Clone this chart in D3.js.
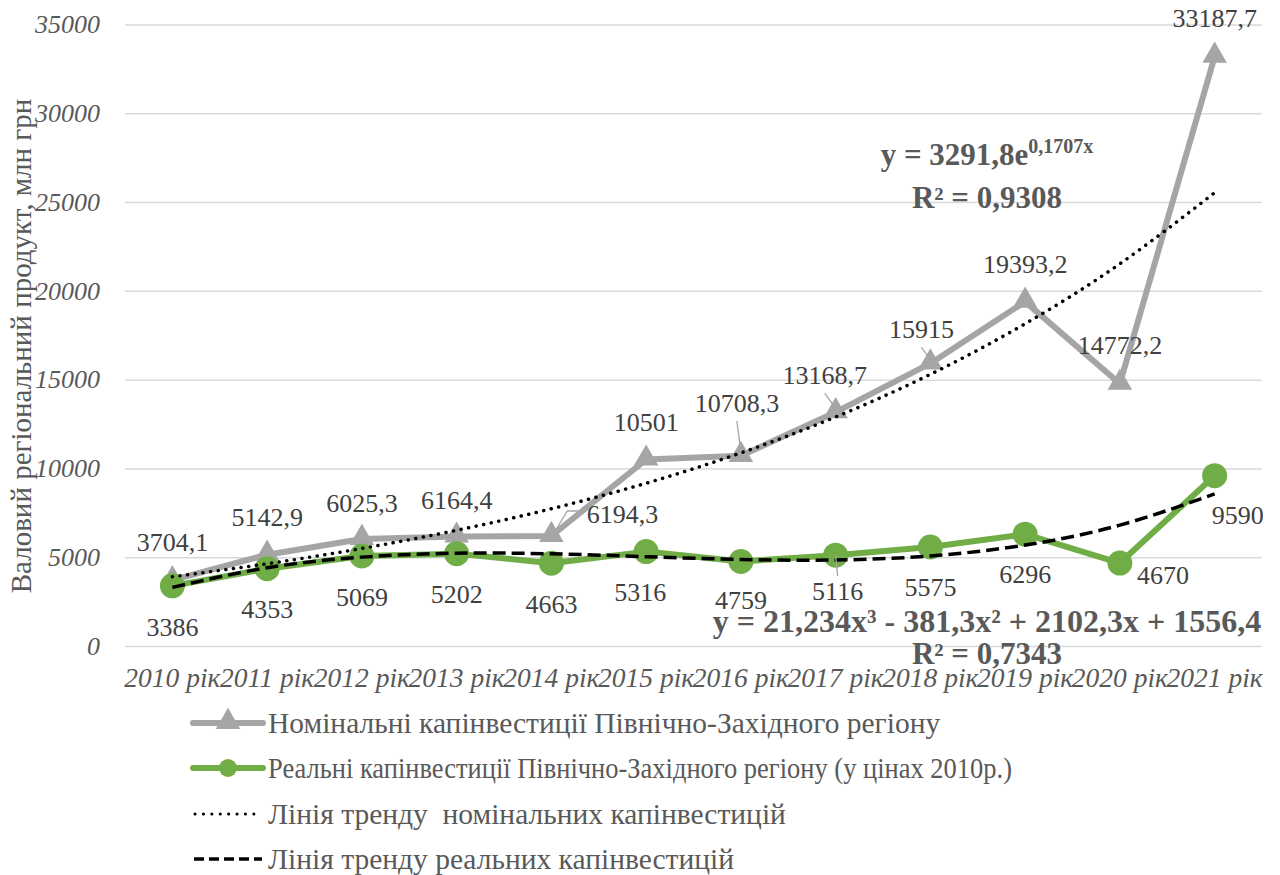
<!DOCTYPE html>
<html>
<head>
<meta charset="utf-8">
<script src="https://cdn.jsdelivr.net/npm/d3@7"></script>
<style>
  body { margin: 0; background: #fff; }
</style>
</head>
<body>
<div id="chart"></div>
<script>
// chart data
const years = ["2010 рік", "2011 рік", "2012 рік", "2013 рік", "2014 рік", "2015 рік",
               "2016 рік", "2017 рік", "2018 рік", "2019 рік", "2020 рік", "2021 рік"];
const nominal = [3704.1, 5142.9, 6025.3, 6164.4, 6194.3, 10501, 10708.3, 13168.7, 15915, 19393.2, 14772.2, 33187.7];
const real = [3386, 4353, 5069, 5202, 4663, 5316, 4759, 5116, 5575, 6296, 4670, 9590];
// trend lines (exponential / cubic fits shown in the labels)
const nominalTrend = [3904, 4631, 5493, 6516, 7729, 9167, 10874, 12898, 15299, 18147, 21525, 25531];
const realTrend = [3299, 4406, 5005, 5224, 5190, 5030, 4872, 4843, 5071, 5683, 6807, 8569];
const yTicks = [0, 5000, 10000, 15000, 20000, 25000, 30000, 35000];
const legendNames = [
  "Номінальні капінвестиції Північно-Західного регіону",
  "Реальні капінвестиції Північно-Західного регіону (у цінах 2010р.)",
  "Лінія тренду  номінальних капінвестицій",
  "Лінія тренду реальних капінвестицій"
];
const yTitle = "Валовий регіональний продукт, млн грн";

// label placement (offset of label centre from its point, px) and leader flags
const nominalLabelPos = [[0,-38],[0,-38],[0,-36],[0,-37],[71,-22],[0,-38],[-4,-53],[-11,-37],[-9,-34],[0,-38],[0,-39],[0,-39]];
const nominalLeader = [0,0,0,0,2,0,1,1,1,0,0,0];
const realLabelPos = [[0,41],[0,40],[0,41],[0,40],[0,41],[-6,40],[0,38],[2,36],[0,40],[0,40],[43,12],[23,39]];
const realLeader = [0,0,0,0,0,0,0,1,0,0,0,0];

const W = 1280, H = 875;
const plotLeft = 125, plotRight = 1262, plotTop = 24.5, plotBottom = 646;
const grey = "#A5A5A5", green = "#70AD47", textCol = "#404040", axisCol = "#595959";
const serif = "'Liberation Serif', 'Times New Roman', serif";

const fmt = d3.formatLocale({decimal: ",", thousands: "", grouping: [3], currency: ["", ""]}).format("~f");

const svg = d3.select("#chart").append("svg")
    .attr("width", W)
    .attr("height", H)
    .style("font-family", serif);

const x = d3.scaleBand()
    .domain(years)
    .range([plotLeft, plotRight]);

const y = d3.scaleLinear()
    .domain([0, 35000])
    .range([plotBottom, plotTop]);

const cx = (d, i) => x(years[i]) + x.bandwidth() / 2;

// y axis with gridlines
const yAxis = svg.append("g")
    .attr("transform", `translate(${plotLeft},0)`)
    .call(d3.axisLeft(y).tickValues(yTicks).tickFormat(d3.format("d"))
        .tickSize(-(plotRight - plotLeft)).tickPadding(25));
yAxis.select(".domain").remove();
yAxis.selectAll("line").attr("stroke", "#D9D9D9").attr("stroke-width", 1.5);
yAxis.selectAll("text")
    .attr("fill", axisCol)
    .style("font-size", "26px")
    .style("font-style", "italic")
    .style("font-family", serif);

// x axis
const xAxis = svg.append("g")
    .attr("transform", `translate(0,${plotBottom})`)
    .call(d3.axisBottom(x).tickSize(0).tickPadding(21));
xAxis.select(".domain").remove();
xAxis.selectAll("text")
    .attr("fill", axisCol)
    .style("font-size", "27.5px")
    .style("font-style", "italic")
    .style("font-family", serif);

// y axis title
svg.append("text")
    .attr("transform", "translate(31,346) rotate(-90)")
    .attr("text-anchor", "middle")
    .attr("fill", axisCol)
    .style("font-family", serif)
    .style("font-size", "29px")
    .text(yTitle);

const line = d3.line()
    .x((d, i) => cx(d, i))
    .y(d => y(d));

const triangle = d3.symbol().type(d3.symbolTriangle).size(260);

// nominal series
svg.append("path")
    .datum(nominal)
    .attr("d", line)
    .attr("fill", "none")
    .attr("stroke", grey)
    .attr("stroke-width", 6)
    .attr("stroke-linejoin", "round");

svg.selectAll(".tri")
    .data(nominal)
    .enter()
    .append("path")
    .attr("class", "tri")
    .attr("d", triangle)
    .attr("transform", (d, i) => `translate(${cx(d, i)},${y(d) - 1})`)
    .attr("fill", grey);

// real series
svg.append("path")
    .datum(real)
    .attr("d", line)
    .attr("fill", "none")
    .attr("stroke", green)
    .attr("stroke-width", 6)
    .attr("stroke-linejoin", "round");

svg.selectAll(".dot")
    .data(real)
    .enter()
    .append("circle")
    .attr("class", "dot")
    .attr("cx", (d, i) => cx(d, i))
    .attr("cy", d => y(d))
    .attr("r", 12.5)
    .attr("fill", green);

// trend lines
const smooth = d3.line()
    .x((d, i) => cx(d, i))
    .y(d => y(d))
    .curve(d3.curveNatural);

svg.append("path")
    .datum(nominalTrend)
    .attr("d", smooth)
    .attr("fill", "none")
    .attr("stroke", "#000")
    .attr("stroke-width", 3.5)
    .attr("stroke-linecap", "round")
    .attr("stroke-dasharray", "0.1 7.6");

svg.append("path")
    .datum(realTrend)
    .attr("d", smooth)
    .attr("fill", "none")
    .attr("stroke", "#000")
    .attr("stroke-width", 3.5)
    .attr("stroke-dasharray", "13 6");

// leader lines
function leaders(values, pos, flags) {
    values.forEach((v, i) => {
        if (!flags[i]) return;
        const px = cx(v, i), py = y(v);
        const lx = px + pos[i][0], ly = py + pos[i][1];
        let pts;
        if (flags[i] === 2) {
            pts = [[px + 2, py - 2], [lx - 55, ly - 3], [lx - 37, ly - 3]];
        } else if (pos[i][1] < 0) {
            pts = [[lx, ly + 18], [px, py - 4]];
        } else {
            pts = [[px, py], [lx, ly - 15]];
        }
        svg.append("path")
            .attr("d", d3.line()(pts))
            .attr("fill", "none")
            .attr("stroke", grey)
            .attr("stroke-width", 1.3);
    });
}
leaders(nominal, nominalLabelPos, nominalLeader);
leaders(real, realLabelPos, realLeader);

// data labels
function labels(values, pos) {
    svg.append("g")
        .selectAll("text")
        .data(values)
        .enter()
        .append("text")
        .attr("x", (d, i) => cx(d, i) + pos[i][0])
        .attr("y", (d, i) => y(d) + pos[i][1])
        .attr("dy", "0.35em")
        .attr("text-anchor", "middle")
        .attr("fill", textCol)
        .style("font-family", serif)
        .style("font-size", "26px")
        .text(d => fmt(d));
}
labels(nominal, nominalLabelPos);
labels(real, realLabelPos);

// trend equations
const eq = svg.append("g")
    .attr("fill", axisCol)
    .style("font-family", serif)
    .style("font-weight", "bold")
    .style("font-size", "31px")
    .attr("text-anchor", "middle");

const eq1 = eq.append("text").attr("x", 987).attr("y", 165);
eq1.append("tspan").text("y = 3291,8e");
eq1.append("tspan").attr("dy", -12).style("font-size", "20px").text("0,1707x");
eq.append("text").attr("x", 987).attr("y", 208).text("R² = 0,9308");

eq.append("text").attr("x", 987).attr("y", 632).style("font-size", "32px")
    .text("y = 21,234x³ - 381,3x² + 2102,3x + 1556,4");
eq.append("text").attr("x", 987).attr("y", 664).text("R² = 0,7343");

// legend
const legendY = [723, 768, 814, 859];
const lg = svg.append("g");
legendNames.forEach((name, i) => {
    const g = lg.append("g").attr("transform", `translate(0,${legendY[i]})`);
    const ln = g.append("line").attr("x1", 193).attr("x2", 263).attr("y1", 0).attr("y2", 0);
    if (i === 0) {
        ln.attr("stroke", grey).attr("stroke-width", 6).attr("stroke-linecap", "round");
        g.append("path").attr("d", triangle).attr("transform", "translate(228,-1)").attr("fill", grey);
    } else if (i === 1) {
        ln.attr("stroke", green).attr("stroke-width", 6).attr("stroke-linecap", "round");
        g.append("circle").attr("cx", 228).attr("cy", 0).attr("r", 9).attr("fill", green);
    } else if (i === 2) {
        ln.attr("x1", 195).attr("x2", 262).attr("stroke", "#000").attr("stroke-width", 3)
          .attr("stroke-linecap", "round").attr("stroke-dasharray", "0.1 8.3");
    } else {
        ln.attr("x1", 194).attr("x2", 262).attr("stroke", "#000").attr("stroke-width", 3.5)
          .attr("stroke-dasharray", "10 5");
    }
    const t = g.append("text")
        .attr("x", 268)
        .attr("dy", "0.35em")
        .attr("fill", axisCol)
        .style("font-family", serif)
        .style("font-size", "29.5px")
        .style("white-space", "pre")
        .text(name);
    // the second legend entry is set tighter in the original
    if (i === 1) t.attr("textLength", 744).attr("lengthAdjust", "spacingAndGlyphs");
});
</script>
</body>
</html>
